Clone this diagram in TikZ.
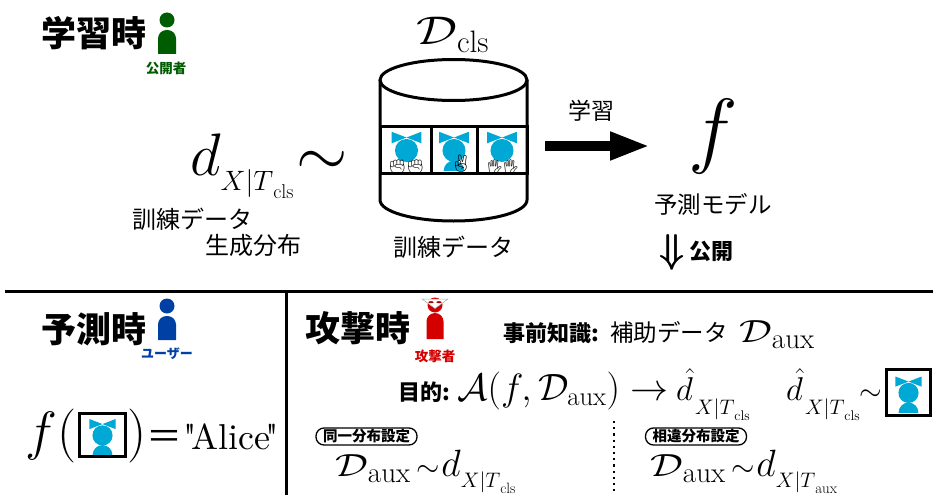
\RequirePackage{fix-cm}
\documentclass[tikz,border=0pt]{standalone}
\usepackage{graphicx}
\usepackage{fontspec}
\newfontfamily\cjk{Noto Sans CJK JP}
\newfontfamily\emo{Noto Emoji}
\newfontfamily\lmplain{lmroman10-regular.otf}
\usetikzlibrary{arrows.meta}

\definecolor{facecyan}{RGB}{0,168,214}
\definecolor{pubgreen}{RGB}{0,92,0}
\definecolor{userblue}{RGB}{0,64,165}
\definecolor{attackred}{RGB}{212,0,0}

% font size in pt with matching baselineskip
\newcommand\fs[1]{\fontsize{#1}{#1}\selectfont}
% calligraphic set name with an upright, lowered subscript
\newcommand\setsub[5]{{\fs{#1}\scalebox{1.28}[1]{$\mathcal{#2}$}}\raisebox{-#4}{\fs{#3}\rmfamily #5}}
% density symbol #1 conditioned on X|T_{#6}
\newcommand\density[6]{{\fs{#2}$#1$}\raisebox{-#5}{\fs{#3}$X|T$\raisebox{-0.3em}{\fs{#4}\rmfamily #6}}}
% heavier glyph by overprinting
\newcommand\heavy[1]{\rlap{#1}\kern0.7pt\rlap{#1}\kern0.7pt#1}

\begin{document}
\begin{tikzpicture}[x=1pt,y=-1pt,
  jp/.style={font=\cjk\fs{#1}, inner sep=0pt},
  jpb/.style={font=\cjk\bfseries\fs{#1}, inner sep=0pt},
  formula/.style={inner sep=0pt, anchor=base west},
  sepline/.style={line width=3.5pt},
  pill/.style={draw, line width=1.3pt, rounded corners=8pt, font=\cjk\bfseries\fs{14.5},
    inner xsep=7pt, inner ysep=0pt, minimum height=17pt},
  qframe/.style={draw, line width=3pt, inner sep=0pt},
  handmark/.style={font=\emo\fs{#1}, inner sep=0pt},
  face/.pic={
    \fill[facecyan] (-0.62,-0.76) -- (-0.62,-0.28) -- (0,-0.52) -- cycle;
    \fill[facecyan] (0.62,-0.76) -- (0.62,-0.28) -- (0,-0.52) -- cycle;
    \fill[facecyan] (0,0.02) circle[radius=0.48];
  },
  facebody/.pic={
    \begin{scope}
      \clip (-1,-1) rectangle (1,0.95);
      \fill[facecyan] (0,0.95) circle[radius=0.47];
    \end{scope}
  },
  person/.pic={
    \fill (0,0) circle[radius=7.5];
    \fill (-9,34) [rounded corners=8.5pt] -- (-9,10) -- (9,10) [sharp corners] -- (9,34) -- cycle;
  }
]
\useasboundingbox (0,0) rectangle (933,495);
\fill[white] (0,0) rectangle (933,495);

% ---------------- training phase ----------------
\node[jpb=35] (trainTitle) at (94,33) {学習時};
\pic[pubgreen] at (167,20) {person};
\node[jpb=13.5, text=pubgreen] (publisher) at (166,68) {公開者};

% generating distribution of the training data
\node[formula] (dcls) at (190,175) {\density{d}{60}{28}{20}{15pt}{cls}\kern3pt{\fs{66}$\sim$}};
\node[jp=24] (genA) at (192,219) {訓練データ};
\node[jp=24] (genB) at (253,245) {生成分布};

% training set drawn as a database cylinder
\node[formula] (Dcls) at (416,45) {\setsub{40}{D}{31}{8pt}{cls}};
\draw[line width=3pt, fill=white] (380,80) -- (380,200)
  arc[start angle=180, end angle=0, x radius=73.5, y radius=21] -- (527,80);
\draw[line width=3pt, fill=white] (453.5,80) ellipse[x radius=73.5, y radius=20.5];
\draw[line width=3pt] (380,126.5) rectangle (527,173.5);
\draw[line width=3pt] (431,126.5) -- (431,173.5) (477,126.5) -- (477,173.5);
\node[minimum width=44pt, minimum height=44pt, inner sep=0pt] (img1) at (406.5,150) {};
\node[minimum width=42pt, minimum height=44pt, inner sep=0pt] (img2) at (454,150) {};
\node[minimum width=46pt, minimum height=44pt, inner sep=0pt] (img3) at (502,150) {};
\pic[scale=24] at (img1) {face};
\pic[scale=24] at (img2) {face};
\pic[scale=22] at (img2) {facebody};
\pic[scale=24] at (img3) {face};
\node[handmark=15] (rockL) at (397.5,167) {✊};
\node[handmark=15] (rockR) at (415.5,167) {✊};
\node[handmark=17] (scissors) at (461,164) {✌};
\node[handmark=15] (paperL) at (495,167) {🖐};
\node[handmark=15] (paperR) at (511,167) {🖐};
\node[jp=24] (trainData) at (453,247) {訓練データ};

% learning arrow and the published model
\coordinate (learnFrom) at (545,146);
\coordinate (learnTo) at (650,146);
\draw[line width=10pt, -{Triangle[length=40pt, width=26pt]}] (learnFrom) -- (learnTo);
\node[jp=23] (learnLabel) at (591,111) {学習};
\node[inner sep=0pt, anchor=base, font=\fs{84}] (model) at (713,157) {$f$};
\node[jp=23.5] (modelLabel) at (713,204) {予測モデル};
\node[inner sep=0pt, font=\fs{40}] (publish) at (672,252) {\heavy{$\Downarrow$}};
\node[jpb=22] (publishLabel) at (711,251) {公開};

% ---------------- separators ----------------
\draw[sepline] (5,291.5) -- (933,291.5);
\draw[sepline] (286.5,291.5) -- (286.5,495);

% ---------------- prediction phase ----------------
\node[jpb=35] (predTitle) at (94,329) {予測時};
\pic[userblue] at (167,306) {person};
\node[jpb=13, text=userblue] (user) at (167,354) {ユーザー};
\node[inner sep=0pt, anchor=base east, font=\fs{54}] (fopen) at (77,449) {$f($};
\node[qframe, minimum width=46pt, minimum height=43pt] (query) at (102.5,435) {};
\pic[scale=21] at (query) {face};
\pic[scale=21] at (query) {facebody};
\node[formula] (fclose) at (127,449) {{\fs{54}$)$}{\cjk\fs{36}＝}{\lmplain\fs{36}\kern1pt"\kern-5pt Alice\kern-5pt"}};

% ---------------- attack phase ----------------
\node[jpb=35] (attackTitle) at (358,328) {攻撃時};
\fill[attackred] (435,305) circle[radius=7.5];
\fill[attackred] (426.5,339) [rounded corners=8.5pt] -- (426.5,313) -- (443.5,313) [sharp corners] -- (443.5,339) -- cycle;
\draw[gray!70, line width=0.5pt, fill=white] (422,299) -- (448,299) -- (435,308.5) -- cycle;
\fill[attackred!75!black] (431,302.2) ellipse[x radius=2.6, y radius=1];
\fill[attackred!75!black] (439,302.2) ellipse[x radius=2.6, y radius=1];
\node[jpb=13.5, text=attackred] (attacker) at (435,356) {攻撃者};

\node[formula, font=\cjk\bfseries\fs{22}] (prior) at (503,341) {事前知識:};
\node[formula, font=\cjk\fs{23.5}] (auxData) at (610,341) {補助データ};
\node[formula] (Daux) at (739,342) {\setsub{32}{D}{29}{6pt}{aux}};

\node[formula, font=\cjk\bfseries\fs{22}] (goal) at (398,400) {目的:};
\node[formula, font=\fs{38}] (attack) at (457,400) {$\mathcal{A}(f,\mathcal{D}_{\mathrm{aux}})\rightarrow$};
\node[formula] (estimate) at (676,400) {\density{\hat{d}\kern2pt}{33}{21}{14}{14pt}{cls}};
\node[formula] (target) at (786,400) {\density{\hat{d}\kern2pt}{33}{21}{14}{14pt}{cls}{\fs{29}$\sim$}};
\node[qframe, minimum width=44pt, minimum height=46pt] (victim) at (908.5,392.5) {};
\pic[scale=21] at (victim) {face};
\pic[scale=21] at (victim) {facebody};

% two settings for the auxiliary data
\draw[line width=2.2pt, dash pattern=on 2.2pt off 4pt] (614,421) -- (614,495);
\node[pill] (same) at (366.5,436.5) {同一分布設定};
\node[formula] (sameEq) at (335,476) {\setsub{32}{D}{29}{6pt}{aux}\kern6pt{\fs{30}$\sim$}\kern2pt\density{d}{38}{21}{15}{11pt}{cls}};
\node[pill] (diff) at (696,436.5) {相違分布設定};
\node[formula] (diffEq) at (650,476) {\setsub{32}{D}{29}{6pt}{aux}\kern6pt{\fs{30}$\sim$}\kern2pt\density{d}{38}{21}{15}{11pt}{aux}};
\end{tikzpicture}
\end{document}
